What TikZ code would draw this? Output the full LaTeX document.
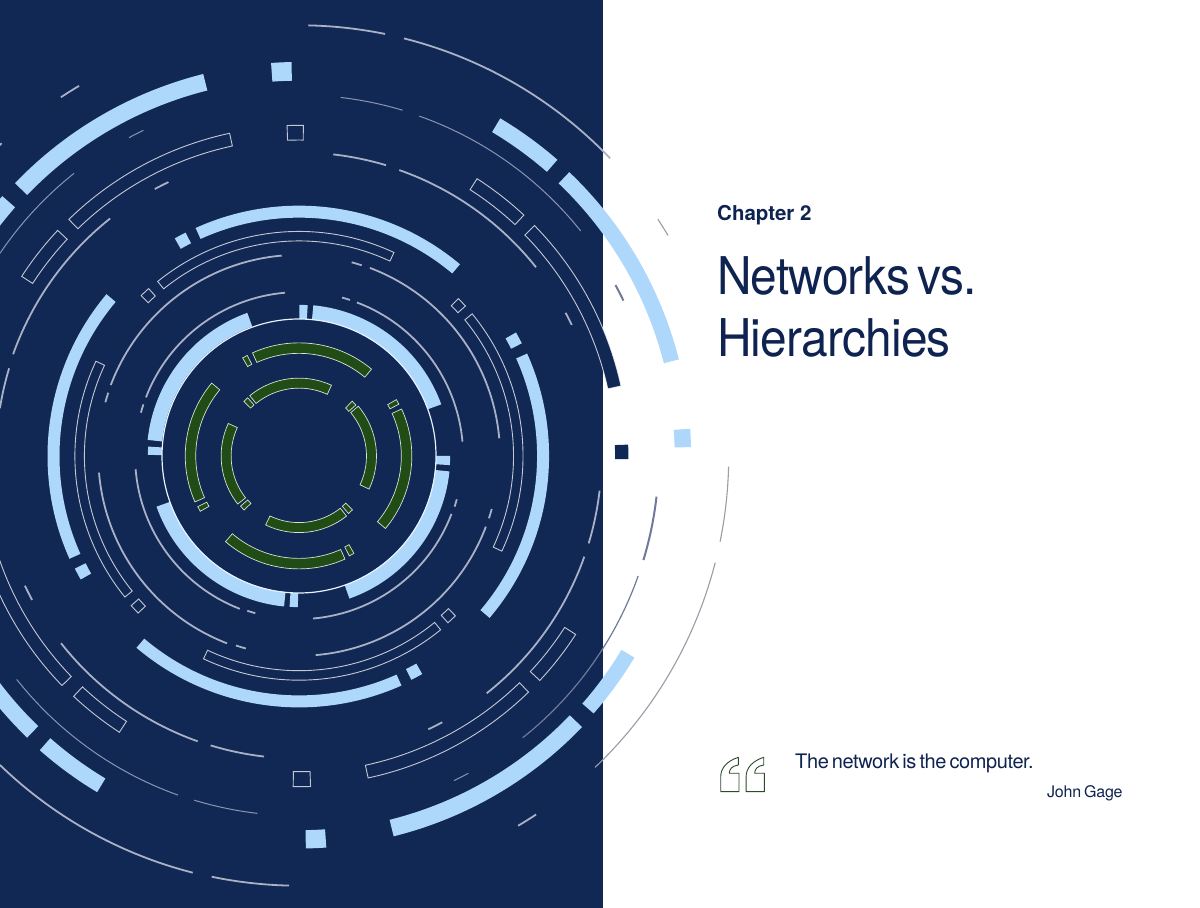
\documentclass[tikz,border=0pt]{standalone}
\usepackage{fontspec}
\setmainfont{TeX Gyre Heros}
\definecolor{cnavy}{HTML}{112754}
\definecolor{ctext}{HTML}{0F2350}
\definecolor{cblue}{HTML}{ADD7FB}
\definecolor{cgreen}{HTML}{224C16}
\definecolor{cgline}{HTML}{D5E3CF}
\definecolor{cline}{HTML}{A9B1C6}
\definecolor{cthin}{HTML}{8A95B2}
\definecolor{cslate}{HTML}{6F7A98}
\definecolor{cgray}{HTML}{9A9CA6}
\definecolor{cquote}{HTML}{2E4A2C}
\definecolor{cring}{HTML}{E6F2FE}
\tikzset{
  bandblue/.style={fill=cblue},
  bandnavy/.style={fill=cnavy},
  bandgreen/.style={fill=cgreen,draw=cgline,line width=0.7pt},
  bandoutline/.style={draw=white,draw opacity=0.75,line width=0.9pt},
  linemain/.style={draw=cline,line width=1.8pt},
  linethin/.style={draw=cthin,line width=1pt},
  lineslate/.style={draw=cslate,line width=2pt},
  linemid/.style={draw=cslate,line width=1.2pt},
  linegray/.style={draw=cgray,line width=1.1pt},
  txt/.style={anchor=base west,inner sep=0pt,text=ctext},
}
% all points in image pixels, centre of the rings at (299,456)
\newcommand\ringsector[5]{%
  \pgfmathsetmacro\rO{#4+(#5)/2}\pgfmathsetmacro\rI{#4-(#5)/2}%
  \path[#1] (#2:\rO) arc[start angle=#2,end angle=#3,radius=\rO] -- (#3:\rI) arc[start angle=#3,end angle=#2,radius=\rI] -- cycle;}
\newcommand\getangles[4]{%
  \pgfmathsetmacro\aA{atan2(456-(#2),(#1)-299)}%
  \pgfmathsetmacro\aB{atan2(456-(#4),(#3)-299)}%
  \pgfmathsetmacro\aC{\aB+((\aB-\aA>180)?-360:((\aB-\aA<-180)?360:0))}%
  \pgfmathsetmacro\rM{(veclen((#1)-299,(#2)-456)+veclen((#3)-299,(#4)-456))/2}}
\newcommand\bandseg[6]{\getangles{#2}{#3}{#4}{#5}\ringsector{#1}{\aA}{\aC}{\rM}{#6}}
\newcommand\ringline[5]{\getangles{#2}{#3}{#4}{#5}%
  \path[#1] (\aA:\rM) arc[start angle=\aA,end angle=\aC,radius=\rM];}
\newcommand\ringtick[5]{%
  \pgfmathsetmacro\aM{atan2(456-(#3),(#2)-299)}%
  \pgfmathsetmacro\rT{veclen((#2)-299,(#3)-456)}%
  \pgfmathsetmacro\aD{(#4)/2/\rT*57.29578}%
  \pgfmathsetmacro\aP{\aM-\aD}\pgfmathsetmacro\aQ{\aM+\aD}%
  \ringsector{#1}{\aP}{\aQ}{\rT}{#5}}
\begin{document}
\begin{tikzpicture}[x=1pt,y=1pt]
\useasboundingbox (0,0) rectangle (1200,908);
\fill[white] (0,0) rectangle (1200,908);
\fill[cnavy] (0,0) rectangle (603,908);
\begin{scope}
\clip (0,0) rectangle (1200,908);
\begin{scope}[shift={(299,452)}]
% outermost r=430
\ringline{linemain}{308.3}{25}{385}{34.3}
\ringline{linemain}{404}{38.3}{610}{158.3}
\ringline{linegray}{657.7}{219.3}{668.3}{235.3}
\ringline{linegray}{728.7}{466.7}{720}{541.7}
\ringline{linegray}{715.3}{562.7}{595}{767.3}
\ringline{linemain}{0}{765}{192.7}{872.7}
\ringline{linemain}{211.7}{876.7}{289}{885.7}
\ringline{linemain}{61}{97.3}{79}{85.7}
\ringline{linemain}{-2}{146}{2}{143.7}
\ringline{linemain}{518.3}{826}{536}{814.3}
% blue r=385
\bandseg{bandblue}{205.3}{82.3}{21}{189}{17}
\bandseg{bandblue}{9.3}{202.3}{-15}{230}{17}
\bandseg{bandblue}{496.3}{125}{552}{166}{16}
\bandseg{bandblue}{564}{177.7}{671.3}{361.3}{15.5}
\bandseg{bandblue}{628.3}{654}{587.7}{708.3}{15}
\bandseg{bandblue}{391.7}{828.3}{575.7}{721}{17}
\bandseg{bandblue}{45}{744.3}{101.3}{785.3}{16}
\bandseg{bandblue}{32.3}{732.3}{-30}{652}{16}
\ringtick{bandblue}{682.5}{438.3}{18}{16.4}
\ringtick{bandblue}{281.7}{71.7}{20}{18.7}
\ringtick{bandblue}{315.7}{839}{20}{18.3}
% r=361
\ringline{linethin}{340.7}{97.7}{402.7}{110}
\ringline{linethin}{419.3}{116}{580.7}{231}
\ringline{linethin}{0}{253.3}{74}{173.3}
\ringline{linethin}{129}{137.7}{143.3}{130.3}
\ringline{linethin}{16}{680}{178.3}{794.3}
\ringline{linethin}{194.3}{800.3}{257.3}{813.3}
\ringline{linethin}{454}{780.7}{468.3}{773.3}
\ringline{linemid}{638.3}{576}{522.7}{737.7}
\ringline{lineslate}{656.7}{496.7}{643.3}{560}
\ringline{lineslate}{615.7}{285}{623.3}{300.7}
% r=323 outlined bands
\bandseg{bandnavy}{530}{230}{614}{387.5}{13.5}
\bandseg{bandoutline}{530}{230}{614}{387.5}{13.5}
\bandseg{bandoutline}{473.7}{184}{519.3}{220}{13}
\bandseg{bandoutline}{73.3}{224}{231}{139.7}{13}
\bandseg{bandoutline}{62.3}{234.7}{27.3}{280}{13}
\bandseg{bandoutline}{66.7}{681}{-20}{510}{13}
\bandseg{bandoutline}{78}{691.7}{123}{726.7}{13}
\bandseg{bandoutline}{366.7}{771.3}{524.3}{687.7}{13}
\bandseg{bandoutline}{535}{676}{570.3}{631}{13}
\ringtick{bandoutline}{295.3}{132.7}{16}{14.7}
\ringtick{bandoutline}{301.8}{779.2}{17}{15}
\ringtick{bandnavy}{621.7}{452}{14.3}{13.3}
% r=303
\ringline{linemain}{333.3}{154.3}{386}{165.3}
\ringline{linemain}{399.3}{170}{536}{267.3}
\ringline{linemain}{565.7}{312.7}{571.7}{325}
\ringline{linemain}{600}{490.7}{588.3}{543.3}
\ringline{linemain}{584.3}{556.7}{486.7}{693.3}
\ringline{linemain}{61}{643.3}{197.7}{741.3}
\ringline{linemain}{210.7}{745.3}{264}{756.7}
\ringline{linemain}{0}{408.3}{9}{368.3}
\ringline{linemain}{13.3}{354.3}{110}{218.3}
\ringline{linemain}{25}{585.7}{32}{600}
\ringline{linemain}{155}{189.3}{168.3}{181.7}
\ringline{linemain}{428.3}{729.3}{442.3}{722.3}
% blue r=244
\bandseg{bandblue}{198}{233.3}{456}{269}{12}
\bandseg{bandblue}{140.3}{643.3}{399}{680}{12}
\bandseg{bandblue}{111}{298}{75}{556.3}{12}
\bandseg{bandblue}{521.7}{356}{485}{614}{12}
\ringtick{bandblue}{183}{240.7}{12}{12}
\ringtick{bandblue}{414}{671.7}{12}{12}
\ringtick{bandblue}{83}{571.3}{12}{12}
\ringtick{bandblue}{513.7}{340.7}{12}{12}
% outlined r=220
\bandseg{bandoutline}{160.3}{284.7}{391.7}{257.3}{9.5}
\bandseg{bandoutline}{205.3}{655}{437.3}{625.7}{9.5}
\bandseg{bandoutline}{468.7}{316.7}{497.3}{549}{9.5}
\bandseg{bandoutline}{99.7}{363}{129}{593.7}{9.5}
\ringtick{bandoutline}{148.3}{295.7}{10}{10}
\ringtick{bandoutline}{448.3}{615.7}{10}{10}
\ringtick{bandoutline}{458.3}{305.7}{10}{10}
\ringtick{bandoutline}{138.3}{606}{10}{10}
% r=201
\ringline{linemain}{370}{267.7}{499}{438.3}
\ringline{linemain}{351.7}{262.3}{361.7}{265.3}
\ringline{linemain}{486}{526.7}{315.7}{655}
\ringline{linemain}{491.7}{509}{489}{518.3}
\ringline{linemain}{98.3}{472.7}{227.3}{642.7}
\ringline{linemain}{236}{645.3}{245.7}{648.7}
\ringline{linemain}{110.7}{385}{281.7}{255.7}
\ringline{linemain}{108.3}{392.7}{105.3}{402.3}
% r=164
\ringline{linemain}{357}{302}{462}{441.7}
\ringline{linemain}{342}{297.5}{350}{300}
\ringline{linemain}{451.7}{514}{313}{618.3}
\ringline{linemain}{456.7}{499.3}{454.7}{506.7}
\ringline{linemain}{135}{469.3}{240}{608.3}
\ringline{linemain}{247.3}{610.7}{255.3}{613.3}
\ringline{linemain}{145.7}{397.3}{285}{293}
\ringline{linemain}{143.3}{404.3}{141}{412.7}
% blue r=144 and white circle
\bandseg{bandblue}{312.7}{312}{434}{407}{14.5}
\bandseg{bandblue}{249.7}{319.5}{155}{440.7}{14.5}
\bandseg{bandblue}{164}{504}{284.7}{600}{14.5}
\bandseg{bandblue}{442.3}{470.7}{347}{591.7}{14.5}
\bandseg{bandblue}{299.3}{312}{307.3}{312}{14}
\bandseg{bandblue}{155}{447}{155}{455}{14}
\bandseg{bandblue}{290}{600}{298}{600}{14}
\bandseg{bandblue}{443}{456}{443}{464.7}{14}
\draw[draw=cring,line width=1.2pt] (0,0) circle[radius=137];
% green r=108
\bandseg{bandgreen}{254.7}{357.7}{368.3}{373}{10.5}
\bandseg{bandgreen}{397.3}{411}{381.3}{525}{10.5}
\bandseg{bandgreen}{216}{386.7}{199.3}{500}{10.5}
\bandseg{bandgreen}{228.7}{538}{342.7}{554}{10.5}
\ringtick{bandgreen}{247.3}{361}{5}{10}
\ringtick{bandgreen}{393.3}{404.3}{5}{10}
\ringtick{bandgreen}{203.3}{506.7}{5}{10}
\ringtick{bandgreen}{349.3}{550.3}{5}{10}
% green r=73
\bandseg{bandgreen}{252.7}{399.3}{329.3}{390}{10}
\bandseg{bandgreen}{355}{409}{364}{486.7}{10}
\bandseg{bandgreen}{232.3}{425.3}{242}{500.7}{10}
\bandseg{bandgreen}{267.7}{520.7}{343.3}{512}{10}
\ringtick{bandgreen}{249}{403}{5}{9.5}
\ringtick{bandgreen}{350.7}{406.3}{5}{9.5}
\ringtick{bandgreen}{245.7}{505}{5}{9.5}
\ringtick{bandgreen}{347.3}{508.3}{5}{9.5}
\end{scope}
\end{scope}
% text
\newfontfamily\titlefont{TeX Gyre Heros}[FakeStretch=0.92,LetterSpace=-1.5,WordSpace=0.6]
\newfontfamily\quotefont{TeX Gyre Heros}[LetterSpace=-2,WordSpace=0.6]
\newfontfamily\authorfont{TeX Gyre Heros}[LetterSpace=-1.5,WordSpace=0.7]
\node[txt] (chapter) at (717,687) {\bfseries\fontsize{20.5}{24}\selectfont Chapter 2};
\node[txt] (titleA) at (717,613) {\titlefont\fontsize{52}{60}\selectfont Networks vs.};
\node[txt] (titleB) at (717,551) {\titlefont\fontsize{52}{60}\selectfont Hierarchies};
\node[txt] (quote) at (795,139.5) {\quotefont\fontsize{20}{24}\selectfont The network is the computer.};
\node[txt] (author) at (1047,110) {\authorfont\fontsize{16}{19}\selectfont John Gage};
% quote marks
\foreach \qx in {0,25.4}{
\draw[cquote,line width=0.9pt,line join=round,xshift=\qx pt]
 (738.3,150.7) .. controls (727,147) and (720.7,140) .. (720.7,131.3) -- (720.7,116.3) -- (739,116.3) -- (739,134.7) -- (729.3,134.7) .. controls (729.3,139) and (732,142) .. (738.3,143) -- cycle;
}
\end{tikzpicture}
\end{document}
